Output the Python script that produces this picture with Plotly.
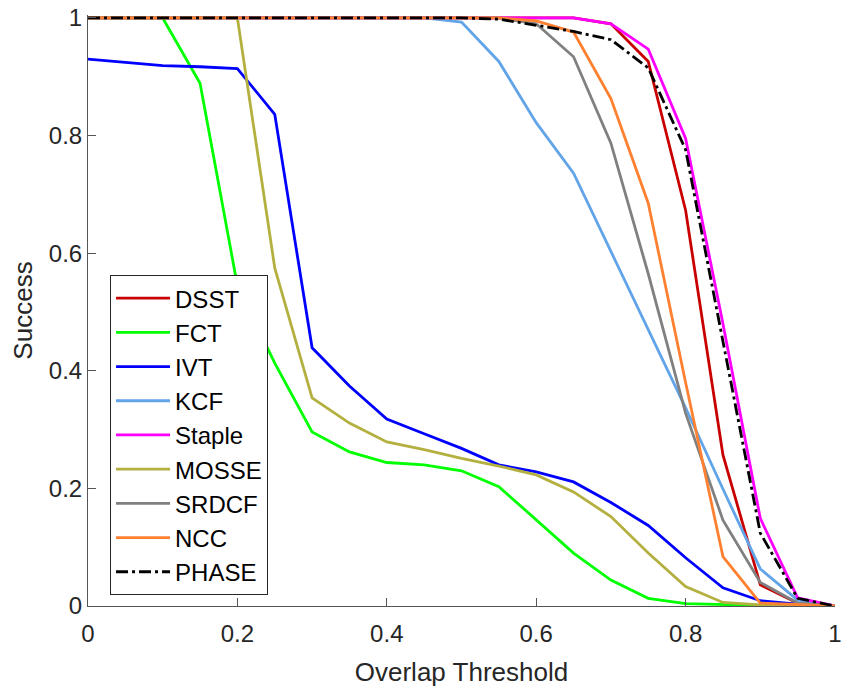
import plotly.graph_objects as go

# Overlap thresholds (0 to 1 in steps of 0.05)
thresholds = [round(i * 0.05, 2) for i in range(21)]

dsst = [1, 1, 1, 1, 1, 1, 1, 1, 1, 1, 1, 1, 1, 1, 0.99, 0.926, 0.673, 0.257, 0.036, 0.005, 0]
fct = [1, 1, 1, 0.889, 0.545, 0.413, 0.296, 0.262, 0.244, 0.240, 0.230, 0.203, 0.146, 0.090, 0.044, 0.013, 0.004, 0.002, 0.001, 0, 0]
ivt = [0.930, 0.925, 0.919, 0.917, 0.914, 0.836, 0.439, 0.374, 0.318, 0.293, 0.268, 0.240, 0.228, 0.211, 0.176, 0.137, 0.082, 0.031, 0.009, 0.003, 0]
kcf = [1, 1, 1, 1, 1, 1, 1, 1, 1, 1, 0.993, 0.926, 0.822, 0.736, 0.603, 0.469, 0.337, 0.199, 0.063, 0.010, 0]
staple = [1, 1, 1, 1, 1, 1, 1, 1, 1, 1, 1, 1, 1, 1, 0.99, 0.947, 0.795, 0.48, 0.149, 0.014, 0]
mosse = [1, 1, 1, 1, 1, 0.575, 0.354, 0.311, 0.279, 0.266, 0.251, 0.238, 0.223, 0.194, 0.152, 0.090, 0.033, 0.006, 0.002, 0.001, 0]
srdcf = [1, 1, 1, 1, 1, 1, 1, 1, 1, 1, 1, 1, 0.99, 0.934, 0.787, 0.565, 0.328, 0.146, 0.040, 0.005, 0]
ncc = [1, 1, 1, 1, 1, 1, 1, 1, 1, 1, 1, 1, 0.995, 0.976, 0.863, 0.685, 0.380, 0.084, 0.005, 0.002, 0]
phase = [1, 1, 1, 1, 1, 1, 1, 1, 1, 1, 1, 0.998, 0.988, 0.977, 0.963, 0.915, 0.776, 0.45, 0.124, 0.013, 0]

tick_vals = [0, 0.2, 0.4, 0.6, 0.8, 1]
tick_text = ["0", "0.2", "0.4", "0.6", "0.8", "1"]

series = [
    ("DSST", dsst, "#C80000", "solid"),
    ("FCT", fct, "#00FF00", "solid"),
    ("IVT", ivt, "#0000FF", "solid"),
    ("KCF", kcf, "#62A4E8", "solid"),
    ("Staple", staple, "#FF00FF", "solid"),
    ("MOSSE", mosse, "#B4B040", "solid"),
    ("SRDCF", srdcf, "#808080", "solid"),
    ("NCC", ncc, "#FF8030", "solid"),
    ("PHASE", phase, "#000000", "12px,4px,3px,4px"),
]

FONT = "Liberation Sans, Arial, sans-serif"

fig = go.Figure()
for name, vals, color, dash in series:
    fig.add_trace(go.Scatter(
        x=thresholds, y=vals, name=name, mode="lines",
        line=dict(color=color, width=2.8, dash=dash),
    ))

axis_common = dict(
    showgrid=False, zeroline=False, showline=True, linecolor="#555555", linewidth=1,
    ticks="inside", ticklen=8, tickwidth=1, tickcolor="#555555",
    tickvals=tick_vals, ticktext=tick_text,
    tickfont=dict(family=FONT, size=24, color="#262626"),
    mirror=False, automargin=False,
)

fig.update_layout(
    width=845, height=689,
    margin=dict(l=88, r=10, t=15, b=83),
    paper_bgcolor="white", plot_bgcolor="white",
    xaxis=dict(range=[0, 1], ticklabelstandoff=6,
               title=dict(text="Overlap Threshold", standoff=17,
                          font=dict(family=FONT, size=26, color="#262626")),
               **axis_common),
    yaxis=dict(range=[0, 1.005],
               title=dict(text="Success", standoff=8,
                          font=dict(family=FONT, size=26, color="#262626")),
               **axis_common),
    legend=dict(
        x=0.0295, y=0.560, xanchor="left", yanchor="top",
        bgcolor="white", bordercolor="#262626", borderwidth=1,
        font=dict(family=FONT, size=24, color="#000000"),
        itemwidth=54, tracegroupgap=0,
    ),
    showlegend=True,
)

fig.write_html("out.html")
